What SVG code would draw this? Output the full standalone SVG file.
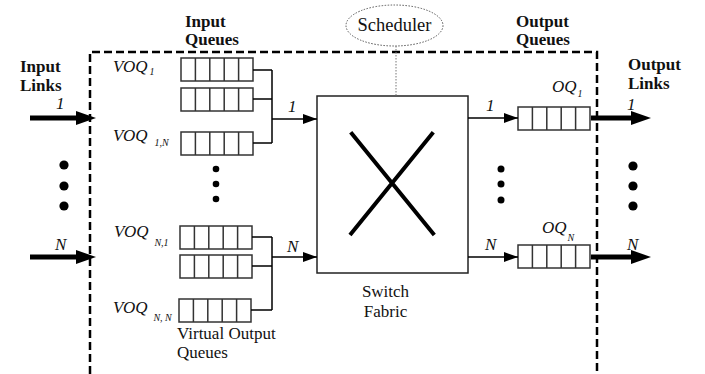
<svg xmlns="http://www.w3.org/2000/svg" width="705" height="374" viewBox="0 0 705 374">
  <style>
    .t{font-family:"Liberation Serif","Times New Roman",serif;font-size:17px;fill:#111}
    .b{font-weight:bold}
    .i{font-style:italic}
    .v{font-family:"Liberation Serif","Times New Roman",serif;font-style:italic;font-size:17px;fill:#111}
    .sub{font-size:10px}
    .q{fill:#fff;stroke:#333;stroke-width:1.5}
    .qc{fill:none;stroke:#333;stroke-width:1.5}
    .w{stroke:#000;stroke-width:1.5;fill:none}
    .thick{stroke:#000;stroke-width:5;fill:none}
    .dash{fill:none;stroke:#000;stroke-width:2.5;stroke-dasharray:8 4}
    .dot{fill:#000}
  </style>
  <defs>
    <g id="queue">
      <rect class="q" x="0" y="0" width="72" height="23"/>
      <path class="qc" d="M14.4,0v23M28.8,0v23M43.2,0v23M57.6,0v23"/>
    </g>
    <marker id="thin" markerUnits="userSpaceOnUse" markerWidth="14" markerHeight="10" refX="14" refY="5" orient="auto">
      <path d="M0,0L14,5L0,10z" fill="#000"/>
    </marker>
    <marker id="fat" markerUnits="userSpaceOnUse" markerWidth="20" markerHeight="14" refX="0" refY="7" orient="auto">
      <path d="M0,0L20,7L0,14z" fill="#000"/>
    </marker>
  </defs>

  <!-- switch boundary -->
  <path class="dash" d="M90,374V52H597V374"/>

  <!-- section headings -->
  <g id="heading-input-links">
    <text class="t b" x="20" y="72">Input</text>
    <text class="t b" x="20" y="91">Links</text>
  </g>
  <g id="heading-input-queues">
    <text class="t b" x="185" y="27">Input</text>
    <text class="t b" x="185" y="45">Queues</text>
  </g>
  <g id="heading-output-queues">
    <text class="t b" x="516" y="27">Output</text>
    <text class="t b" x="516" y="45">Queues</text>
  </g>
  <g id="heading-output-links">
    <text class="t b" x="628" y="70">Output</text>
    <text class="t b" x="628" y="89">Links</text>
  </g>

  <!-- scheduler -->
  <g id="scheduler">
    <ellipse cx="394.5" cy="25.5" rx="48.5" ry="20.5" fill="none" stroke="#555" stroke-width="1" stroke-dasharray="1.5 1.5"/>
    <text class="t" x="394.5" y="31" text-anchor="middle" style="font-size:18.5px">Scheduler</text>
  </g>

  <!-- input queues for port 1 -->
  <g id="voq-1">
    <use href="#queue" x="181" y="58"/>
    <use href="#queue" x="181" y="88"/>
    <use href="#queue" x="181" y="132"/>
    <text class="v" x="113" y="72">VOQ<tspan class="sub" dx="2" dy="3">1</tspan></text>
    <text class="v" x="113" y="141">VOQ<tspan class="sub" dx="7" dy="5">1,N</tspan></text>
  </g>
  <g id="voq-dots">
    <circle class="dot" cx="216" cy="169" r="3.3"/>
    <circle class="dot" cx="216" cy="184" r="3.3"/>
    <circle class="dot" cx="216" cy="199" r="3.3"/>
  </g>
  <!-- input queues for port N -->
  <g id="voq-n">
    <use href="#queue" x="180" y="226"/>
    <use href="#queue" x="180" y="255"/>
    <use href="#queue" x="179" y="299"/>
    <text class="v" x="114" y="237">VOQ<tspan class="sub" dx="6" dy="9">N,1</tspan></text>
    <text class="v" x="113" y="313">VOQ<tspan class="sub" dx="6" dy="8">N, N</tspan></text>
    <text class="t" x="177" y="339">Virtual Output</text>
    <text class="t" x="177" y="358">Queues</text>
  </g>

  <!-- switch fabric -->
  <g id="switch-fabric">
    <rect x="317" y="96" width="151" height="177" fill="#fff" stroke="#222" stroke-width="1.5"/>
    <path d="M350.7,132.3L434.3,235M433.3,132.3L350,235" stroke="#000" stroke-width="4" fill="none"/>
    <text class="t" x="385.5" y="297" text-anchor="middle">Switch</text>
    <text class="t" x="385.5" y="317" text-anchor="middle">Fabric</text>
  </g>

  <!-- output queues -->
  <g id="oq-1">
    <use href="#queue" x="518" y="107"/>
    <text class="v" x="552" y="92">OQ<tspan class="sub" dx="1" dy="5">1</tspan></text>
  </g>
  <g id="oq-dots">
    <circle class="dot" cx="501" cy="169" r="3.5"/>
    <circle class="dot" cx="501" cy="184" r="3.5"/>
    <circle class="dot" cx="501" cy="200" r="3.5"/>
  </g>
  <g id="oq-n">
    <use href="#queue" x="518" y="245"/>
    <text class="v" x="542" y="233">OQ<tspan class="sub" dx="1" dy="8">N</tspan></text>
  </g>

  <!-- link ellipses -->
  <g id="input-link-dots">
    <circle class="dot" cx="64" cy="165" r="4.6"/>
    <circle class="dot" cx="64" cy="186" r="4.6"/>
    <circle class="dot" cx="64" cy="206" r="4.6"/>
  </g>
  <g id="output-link-dots">
    <circle class="dot" cx="633" cy="166" r="4.6"/>
    <circle class="dot" cx="633" cy="186" r="4.6"/>
    <circle class="dot" cx="633" cy="206" r="4.6"/>
  </g>

  <!-- connectors -->
  <g id="connectors">
    <!-- input links -->
    <line class="thick" x1="30" y1="118" x2="76" y2="118" marker-end="url(#fat)"/>
    <line class="thick" x1="30" y1="257" x2="76" y2="257" marker-end="url(#fat)"/>
    <text class="t i" x="56" y="109">1</text>
    <text class="t i" x="55" y="250">N</text>

    <!-- VOQ merge into fabric port 1 -->
    <path class="w" d="M253,70H272M253,99H272M253,143H272M272,70V143"/>
    <line class="w" x1="272" y1="119" x2="317" y2="119" marker-end="url(#thin)"/>
    <text class="t i" x="288" y="112">1</text>

    <!-- VOQ merge into fabric port N -->
    <path class="w" d="M252,237H272M252,266H272M251,310H272M272,237V310"/>
    <line class="w" x1="272" y1="257" x2="317" y2="257" marker-end="url(#thin)"/>
    <text class="t i" x="287" y="252">N</text>

    <!-- scheduler control -->
    <line x1="396" y1="46" x2="396" y2="96" stroke="#777" stroke-width="1" stroke-dasharray="1.5 1.5"/>

    <!-- fabric to output queues -->
    <line class="w" x1="468" y1="118" x2="518" y2="118" marker-end="url(#thin)"/>
    <text class="t i" x="486" y="111">1</text>
    <line class="w" x1="468" y1="257" x2="518" y2="257" marker-end="url(#thin)"/>
    <text class="t i" x="485" y="250">N</text>

    <!-- output links -->
    <line class="thick" x1="591" y1="118" x2="631" y2="118" marker-end="url(#fat)"/>
    <line class="thick" x1="591" y1="257" x2="631" y2="257" marker-end="url(#fat)"/>
    <text class="t i" x="627" y="110">1</text>
    <text class="t i" x="627" y="250">N</text>
  </g>
</svg>
